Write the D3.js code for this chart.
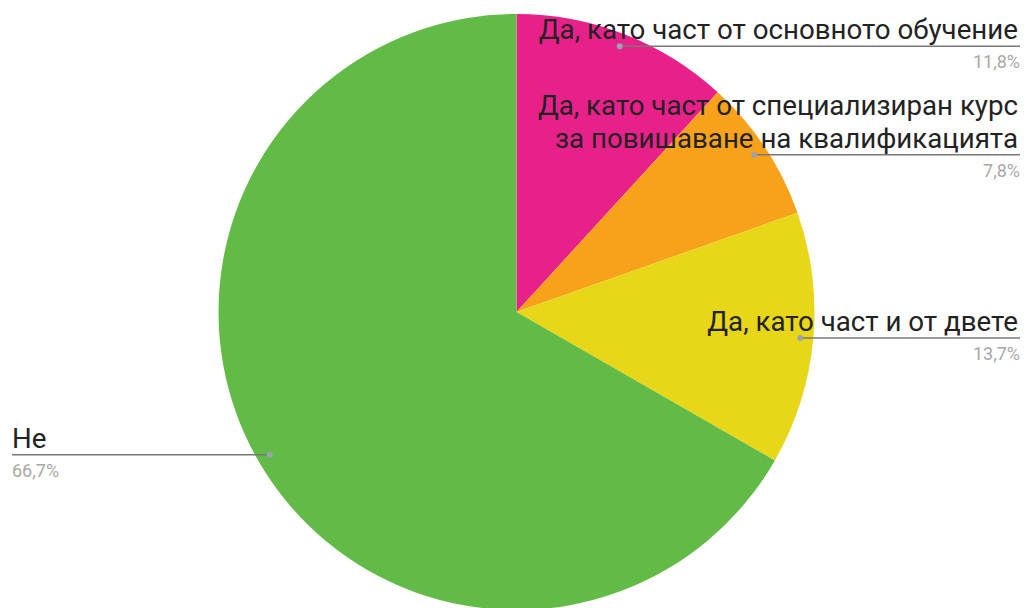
<!DOCTYPE html>
<html>
<head>
<meta charset="utf-8">
<script src="https://cdn.jsdelivr.net/npm/d3@7"></script>
<style>
  body { margin: 0; background: #fff; }
  text { font-family: Roboto, "Noto Sans", sans-serif; }
</style>
</head>
<body>
<div id="chart"></div>
<script>
/** Chart data, clockwise from 12 o'clock. */
const labels = [
  ["Да, като част от основното обучение"],
  ["Да, като част от специализиран курс", "за повишаване на квалификацията"],
  ["Да, като част и от двете"],
  ["Не"]
];
const values = [11.8, 7.8, 13.7, 66.7];
const percentLabels = ["11,8%", "7,8%", "13,7%", "66,7%"];
const colors = ["#e8218a", "#f8a21c", "#e8d619", "#63bb47"];

const WIDTH = 1026;
const HEIGHT = 608;
const CX = 516.5;
const CY = 312;
const R = 298;

/** Radius of the leader dots. */
const DOT_R = 285;

/** Horizontal ends of the leader lines. */
const RIGHT_X = 1020;
const LEFT_X = 12;

const svg = d3.select("#chart").append("svg")
    .attr("width", WIDTH)
    .attr("height", HEIGHT);

const pie = d3.pie().sort(null).value(d => d);
const arcs = pie(values);

const arc = d3.arc().innerRadius(0).outerRadius(R);
const dotArc = d3.arc().innerRadius(DOT_R).outerRadius(DOT_R);

const g = svg.append("g").attr("transform", `translate(${CX},${CY})`);

// Slices
g.selectAll("path.slice")
    .data(arcs)
    .enter()
    .append("path")
    .attr("class", "slice")
    .attr("d", arc)
    .attr("fill", (d, i) => colors[i]);

// Labels with leader lines
arcs.forEach((d, i) => {
    const [px, py] = dotArc.centroid(d);
    const x = CX + px;
    const y = CY + py;
    const right = px > 0;
    const endX = right ? RIGHT_X : LEFT_X;
    const textX = right ? endX - 2 : endX;
    const anchor = right ? "end" : "start";

    svg.append("line")
        .attr("x1", x).attr("y1", y)
        .attr("x2", endX).attr("y2", y)
        .attr("stroke", "#777")
        .attr("stroke-width", 1.5);

    svg.append("circle")
        .attr("cx", x).attr("cy", y)
        .attr("r", 3)
        .attr("fill", "#9aa3ad");

    const lines = labels[i];
    lines.forEach((t, j) => {
        svg.append("text")
            .attr("x", textX)
            .attr("y", y - 7 - (lines.length - 1 - j) * 33)
            .attr("text-anchor", anchor)
            .attr("font-size", 27.7)
            .attr("fill", "#222")
            .text(t);
    });

    svg.append("text")
        .attr("x", endX)
        .attr("y", y + 22)
        .attr("text-anchor", anchor)
        .attr("font-size", 18)
        .attr("fill", "#a8a8a8")
        .text(percentLabels[i]);
});
</script>
</body>
</html>
